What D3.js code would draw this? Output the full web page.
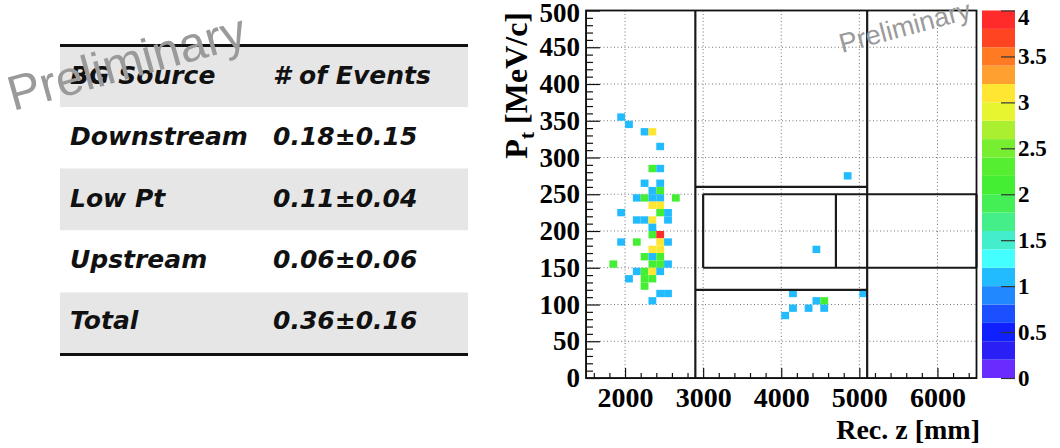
<!DOCTYPE html>
<html><head><meta charset="utf-8">
<script src="https://cdn.jsdelivr.net/npm/d3@7"></script>
<style>
html,body{margin:0;padding:0;background:#fff;}
svg{display:block;}
.axis text{font-family:"Liberation Serif","Times New Roman",serif;font-weight:bold;fill:#000;}
.tbl text{font-family:"DejaVu Sans",Verdana,sans-serif;font-weight:bold;font-style:italic;fill:#111;}
</style>
</head><body>
<svg id="c" width="1060" height="448"></svg>
<script>
// ---------- data ----------
// histogram bins (low edges): Rec. z [mm], Pt [MeV/c], counts
const cellZ  = [1900,2000,2200,2300,2400,2300,2400,2200,2400,2300,2400,
                2100,2200,2300,2400,2600,2300,2400,1900,2400,2500,
                2100,2200,2300,2500,2300,2300,2400,1900,2100,2400,2500,
                2300,2400,2200,2300,2400,1800,2300,2400,2500,
                2100,2200,2300,2400,2000,2200,2300,2200,2400,2500,2300,
                4800,4400,4100,5000,4400,4500,4100,4300,4500,4000];
const cellPt = [350,340,330,330,310,280,280,260,260,250,250,
                240,240,240,240,240,230,230,220,220,220,
                210,210,210,210,200,190,190,180,180,180,180,
                170,170,160,160,160,150,150,150,150,
                140,140,140,140,130,130,130,120,110,110,100,
                270,170,110,110,100,100,90,90,90,80];
const cellCount = [1,1,1,3,1,2,1,1,1,1,2,
                   1,2,1,1,2,3,3,1,2,1,
                   1,1,3,1,1,2,4,1,2,3,1,
                   3,3,2,1,2,2,2,2,1,
                   1,2,3,1,1,2,2,2,1,1,1,
                   1,1,1,1,1,2,1,1,1,1];
const binZ = 100, binPt = 10;

const xTicks = [2000,3000,4000,5000,6000];
const xMinor = [1600,1800,2200,2400,2600,2800,3200,3400,3600,3800,4200,4400,4600,4800,5200,5400,5600,5800,6200,6400];
const yTicks = [0,50,100,150,200,250,300,350,400,450,500];
const yGrid  = [50,100,150,200,250,300,350,400,450];
const zTicks = [0,0.5,1,1.5,2,2.5,3,3.5,4];

// cut lines (segments): z1, pt1, z2, pt2
const cutZ1  = [2900,5100,2900,2900,3000,3000,3000,6500,4700];
const cutPt1 = [0,0,260,120,250,150,150,150,150];
const cutZ2  = [2900,5100,5100,5100,6500,6500,3000,6500,4700];
const cutPt2 = [500,500,260,120,250,150,250,250,250];

const tableHeader = ["BG Source","# of Events"];
const bgSources = ["Downstream","Low Pt","Upstream","Total"];
const nEvents  = ["0.18±0.15","0.11±0.04","0.06±0.06","0.36±0.16"];

// colour palette (20 contour levels, 0 → 4)
const palette = ["#6a2bff","#2a20f5","#1020ff","#1a50ff","#2288ff","#22bbff","#44ffff","#44eecc","#44ee88","#44ee55",
                 "#44ee33","#55ee30","#77ee30","#aaf030","#e6f530","#ffe633","#ffa030","#ff7a22","#ff4422","#ff2a2a"];

// ---------- layout ----------
const svg = d3.select("#c");
const L = 586, R = 976.5, T = 10.5, B = 378;
const x = d3.scaleLinear().domain([1500,6500]).range([L,R]);
const y = d3.scaleLinear().domain([0,500]).range([B,T]);
const zc = d3.scaleLinear().domain([0,4]).range([B,T]);
const color = d3.scaleThreshold().domain(d3.range(1,20).map(i=>i/5)).range(palette);

// ---------- table ----------
const tbl = svg.append("g").attr("class","tbl");
const rowTop = [47,107,168.5,230.5,292.5];
const shaded = [true,false,true,false,true];
tbl.selectAll("rect.row").data(rowTop).join("rect")
  .attr("x",60).attr("width",408).attr("y",d=>d).attr("height",(d,i)=> i<4 ? rowTop[i+1]-d : 353-d)
  .attr("fill",(d,i)=> shaded[i] ? "#e6e6e6" : "#fff");
tbl.append("line").attr("x1",60).attr("x2",468).attr("y1",45.5).attr("y2",45.5).attr("stroke","#111").attr("stroke-width",3);
tbl.append("line").attr("x1",60).attr("x2",468).attr("y1",354.5).attr("y2",354.5).attr("stroke","#111").attr("stroke-width",3);
const baselines = [84,145,207,268,329];
const col1 = [tableHeader[0]].concat(bgSources);
const col2 = [tableHeader[1]].concat(nEvents);
tbl.selectAll("text.c1").data(col1).join("text").attr("class","c1")
  .attr("x",70).attr("y",(d,i)=>baselines[i]).attr("font-size",25).text(d=>d);
tbl.selectAll("text.c2").data(col2).join("text").attr("class","c2")
  .attr("x",273).attr("y",(d,i)=>baselines[i]).attr("font-size",25).text(d=>d);

// ---------- plot ----------
const g = svg.append("g");
// grid
g.selectAll("line.gx").data(xTicks).join("line")
  .attr("x1",d=>x(d)).attr("x2",d=>x(d)).attr("y1",T).attr("y2",B)
  .attr("stroke","#777").attr("stroke-width",1).attr("stroke-dasharray","1,2.5");
g.selectAll("line.gy").data(yGrid).join("line")
  .attr("y1",d=>y(d)).attr("y2",d=>y(d)).attr("x1",L).attr("x2",R)
  .attr("stroke","#777").attr("stroke-width",1).attr("stroke-dasharray","1,2.5");

// cells
const cells = cellZ.map((z,i)=>({z, pt:cellPt[i], n:cellCount[i]}));
g.selectAll("rect.cell").data(cells).join("rect")
  .attr("x",d=>x(d.z)).attr("width",d=>x(d.z+binZ)-x(d.z))
  .attr("y",d=>y(d.pt+binPt)).attr("height",d=>y(d.pt)-y(d.pt+binPt))
  .attr("fill",d=>color(d.n));

// cut lines
const cuts = cutZ1.map((z,i)=>({z1:z, p1:cutPt1[i], z2:cutZ2[i], p2:cutPt2[i]}));
g.selectAll("line.cut").data(cuts).join("line")
  .attr("x1",d=>x(d.z1)).attr("y1",d=>y(d.p1)).attr("x2",d=>x(d.z2)).attr("y2",d=>y(d.p2))
  .attr("stroke","#1a1a1a").attr("stroke-width",2.2);

// axes
const ax = g.append("g").attr("class","axis").attr("transform",`translate(0,${B})`)
  .call(d3.axisBottom(x).tickValues(xTicks).tickSizeInner(-10).tickSizeOuter(0).tickPadding(9).tickFormat(d3.format("d")));
ax.selectAll("text").attr("font-size",28);
const axm = g.append("g").attr("transform",`translate(0,${B})`)
  .call(d3.axisBottom(x).tickValues(xMinor).tickSizeInner(-5).tickSizeOuter(0).tickFormat(""));
axm.select(".domain").remove();

const ay = g.append("g").attr("class","axis").attr("transform",`translate(${L},0)`)
  .call(d3.axisLeft(y).tickValues(yTicks).tickSizeInner(-14).tickSizeOuter(0).tickPadding(6).tickFormat(d3.format("d")));
ay.selectAll("text").attr("font-size",27);
ay.selectAll(".tick").filter(d=>d===500).select("text").attr("dy","0.4em");
const yMinor = d3.range(10,500,10).filter(v=>v%50!==0);
const aym = g.append("g").attr("transform",`translate(${L},0)`)
  .call(d3.axisLeft(y).tickValues(yMinor).tickSizeInner(-7).tickSizeOuter(0).tickFormat(""));
aym.select(".domain").remove();
g.selectAll(".tick line").attr("stroke","#111").attr("stroke-width",1.2);

// frame
g.append("rect").attr("x",L).attr("y",T).attr("width",R-L).attr("height",B-T)
  .attr("fill","none").attr("stroke","#111").attr("stroke-width",1.8);

// axis titles
g.append("text").attr("x",980).attr("y",439).attr("text-anchor","end")
  .style("font-family","'Liberation Serif',serif").style("font-weight","bold").attr("font-size",28).text("Rec. z [mm]");
const yt = g.append("text").attr("transform","translate(527,12) rotate(-90)").attr("text-anchor","end")
  .style("font-family","'Liberation Serif',serif").style("font-weight","bold").attr("font-size",32);
yt.append("tspan").text("P");
yt.append("tspan").attr("font-size",22).attr("dy",7).text("t");
yt.append("tspan").attr("dy",-7).text(" [MeV/c]");

// colour bar
const CL = 982, CR = 1015;
const bands = d3.range(20);
g.selectAll("rect.band").data(bands).join("rect")
  .attr("x",CL).attr("width",CR-CL)
  .attr("y",i=>zc((i+1)/5)).attr("height",i=>zc(i/5)-zc((i+1)/5))
  .attr("fill",i=>palette[i]);
const az = g.append("g").attr("class","axis").attr("transform",`translate(${CR},0)`)
  .call(d3.axisRight(zc).tickValues(zTicks).tickSizeInner(-14).tickSizeOuter(0).tickPadding(3).tickFormat(d=>d));
az.select(".domain").remove();
az.selectAll("text").attr("font-size",23);
az.selectAll(".tick").filter(d=>d===4).select("text").attr("dy","0.6em");
az.selectAll(".tick line").attr("stroke","#333").attr("stroke-width",1.2);

// watermarks
svg.append("text").attr("transform","translate(13,111) rotate(-15.5)")
  .style("font-family","'Liberation Sans',Arial,sans-serif").attr("font-size",49).attr("fill","#9a9a9a")
  .text("Preliminary");
svg.append("text").attr("transform","translate(842,53) rotate(-15)")
  .style("font-family","'Liberation Sans',Arial,sans-serif").attr("font-size",27).attr("fill","#9a9a9a")
  .text("Preliminary");
</script>
</body></html>
